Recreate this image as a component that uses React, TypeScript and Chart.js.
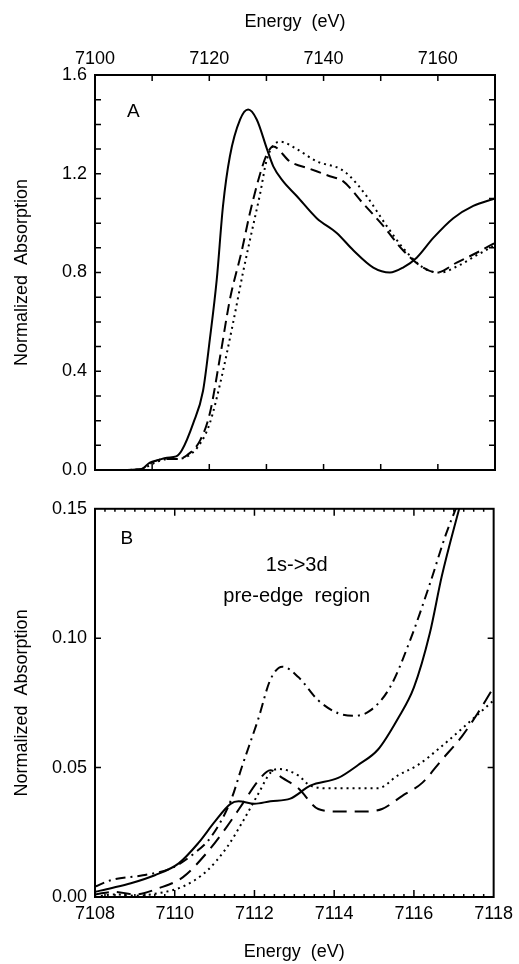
import React, { useEffect, useRef } from 'react';
import { Chart, registerables } from 'chart.js';

Chart.register(...registerables);

const FONT = '"Liberation Sans", Arial, Helvetica, sans-serif';

// ---------- Panel A (full edge) ----------
const aSolidE = [7104, 7108, 7109.6, 7111, 7112.6, 7114.2, 7115.2, 7117.2, 7118.9, 7120.1, 7121.3, 7122.4, 7123.6, 7125.4, 7126.8, 7128.3, 7130.1, 7131.2, 7132.9, 7135.3, 7138.8, 7142.3, 7145.2, 7148.7, 7151.6, 7153.9, 7156.3, 7159.2, 7162.7, 7166.2, 7170];
const aSolidY = [0, 0.003, 0.03, 0.04, 0.05, 0.055, 0.08, 0.19, 0.32, 0.53, 0.77, 1.07, 1.27, 1.42, 1.46, 1.42, 1.3, 1.23, 1.17, 1.11, 1.02, 0.96, 0.89, 0.82, 0.8, 0.82, 0.86, 0.94, 1.02, 1.07, 1.1];

const aDashE = [7104, 7108, 7109.6, 7111, 7113, 7114.5, 7116.1, 7118.4, 7120.1, 7121.9, 7123.6, 7125.7, 7127.1, 7128.9, 7130.1, 7131.2, 7134.1, 7137.6, 7141.1, 7143.4, 7146.9, 7150.4, 7153.9, 7157.4, 7159.8, 7163.3, 7166.8, 7170];
const aDashY = [0, 0.003, 0.025, 0.04, 0.045, 0.045, 0.06, 0.12, 0.23, 0.46, 0.69, 0.89, 1.04, 1.2, 1.28, 1.31, 1.25, 1.22, 1.19, 1.17, 1.08, 0.99, 0.89, 0.82, 0.8, 0.84, 0.88, 0.92];

const aDotE = [7104, 7108, 7109.6, 7111, 7113, 7114.5, 7116.5, 7118.5, 7120.1, 7121.9, 7124.2, 7125.9, 7127.1, 7128.9, 7130.1, 7132.4, 7135.3, 7138.8, 7142.9, 7144.6, 7147.5, 7151.0, 7153.9, 7157.4, 7160.4, 7163.8, 7166.8, 7170];
const aDotY = [0, 0.002, 0.02, 0.035, 0.045, 0.045, 0.06, 0.11, 0.19, 0.35, 0.6, 0.8, 0.93, 1.12, 1.26, 1.33, 1.3, 1.25, 1.22, 1.19, 1.11, 0.99, 0.9, 0.82, 0.8, 0.83, 0.87, 0.91];

// ---------- Panel B (pre-edge) ----------
const bSolidE = [7108, 7108.4, 7108.9, 7109.5, 7110.1, 7110.6, 7111.0, 7111.4, 7111.6, 7112.0, 7112.4, 7112.9, 7113.4, 7114.1, 7114.6, 7115.1, 7115.6, 7116.0, 7116.4, 7116.7, 7117.1, 7117.4];
const bSolidY = [0.002, 0.0034, 0.0053, 0.0084, 0.013, 0.021, 0.029, 0.036, 0.037, 0.036, 0.037, 0.038, 0.043, 0.046, 0.051, 0.057, 0.069, 0.081, 0.102, 0.124, 0.148, 0.165];

const bDashDotE = [7108, 7108.4, 7109.2, 7109.9, 7110.5, 7110.9, 7111.4, 7111.7, 7112.1, 7112.4, 7112.7, 7113.1, 7113.6, 7114.1, 7114.5, 7114.9, 7115.4, 7115.9, 7116.4, 7116.8, 7117.1, 7117.3];
const bDashDotY = [0.004, 0.0065, 0.0084, 0.011, 0.017, 0.023, 0.037, 0.051, 0.069, 0.084, 0.089, 0.085, 0.076, 0.071, 0.07, 0.072, 0.081, 0.099, 0.121, 0.14, 0.152, 0.16];

const bDashE = [7108, 7108.5, 7109, 7109.6, 7110.2, 7110.8, 7111.3, 7111.7, 7112.1, 7112.4, 7112.7, 7113.1, 7113.6, 7114.1, 7114.7, 7115.2, 7115.7, 7116.2, 7116.7, 7117.2, 7117.6, 7118];
const bDashY = [0.001, 0.002, 0.001, 0.0034, 0.0076, 0.017, 0.027, 0.036, 0.045, 0.049, 0.046, 0.042, 0.034, 0.033, 0.033, 0.034, 0.039, 0.044, 0.053, 0.062, 0.071, 0.081];

const bDotE = [7108, 7108.5, 7109, 7109.6, 7110.2, 7110.8, 7111.3, 7111.7, 7112.1, 7112.4, 7112.6, 7113.1, 7113.4, 7113.9, 7114.6, 7115.1, 7115.6, 7116.1, 7116.6, 7117.2, 7118];
const bDotY = [0.0, 0.001, 0.0005, 0.0015, 0.004, 0.01, 0.019, 0.029, 0.04, 0.048, 0.0495, 0.047, 0.043, 0.042, 0.042, 0.042, 0.047, 0.051, 0.057, 0.065, 0.076];

// ---------- tick labels ----------
const aXLabels = [7100, 7120, 7140, 7160];
const aYLabels = [0, 0.4, 0.8, 1.2, 1.6];
const bXLabels = [7108, 7110, 7112, 7114, 7116, 7118];
const bYLabels = [0, 0.05, 0.1, 0.15];

// tick mark positions (inward ticks)
const aXTickMarks = [7110, 7120, 7130, 7140, 7150, 7160];
const aYTickMarks = [0.1, 0.2, 0.3, 0.4, 0.5, 0.6, 0.7, 0.8, 0.9, 1.0, 1.1, 1.2, 1.3, 1.4, 1.5];
const bXMajorMarks = [7110, 7112, 7114, 7116];
const bYTickMarks = [0.05, 0.1];

const zip = (xs: number[], ys: number[]) => xs.map((x, i) => ({ x, y: ys[i] }));

const frameTicks = {
  id: 'frameTicks',
  afterDatasetsDraw(chart: any, _args: any, opts: any) {
    const { ctx, chartArea } = chart;
    const { left, right, top, bottom } = chartArea;
    const xs = chart.scales.x;
    const ys = chart.scales.y;
    ctx.save();
    ctx.strokeStyle = '#000';
    ctx.lineWidth = 1.5;
    ctx.beginPath();
    for (const t of opts.xTicks || []) {
      const px = xs.getPixelForValue(t.v);
      ctx.moveTo(px, top);
      ctx.lineTo(px, top + t.len);
      ctx.moveTo(px, bottom);
      ctx.lineTo(px, bottom - t.len);
    }
    for (const t of opts.yTicks || []) {
      const py = ys.getPixelForValue(t.v);
      ctx.moveTo(left, py);
      ctx.lineTo(left + t.len, py);
      ctx.moveTo(right, py);
      ctx.lineTo(right - t.len, py);
    }
    ctx.stroke();
    ctx.lineWidth = 2;
    ctx.strokeRect(left, top, right - left, bottom - top);
    ctx.fillStyle = '#000';
    ctx.textAlign = 'center';
    ctx.textBaseline = 'middle';
    for (const tx of opts.texts || []) {
      ctx.font = `${tx.size}px ${FONT}`;
      ctx.fillText(tx.text, xs.getPixelForValue(tx.x), ys.getPixelForValue(tx.y));
    }
    ctx.restore();
  },
};

const lineDs = (data: { x: number; y: number }[], dash: number[]) => ({
  data,
  borderColor: '#000',
  borderWidth: 2,
  borderDash: dash,
  pointRadius: 0,
  fill: false,
  cubicInterpolationMode: 'monotone' as const,
});

const tickFont = { family: FONT, size: 18 };

export default function App() {
  const refA = useRef<HTMLCanvasElement>(null);
  const refB = useRef<HTMLCanvasElement>(null);

  useEffect(() => {
    const chartA = new Chart(refA.current as HTMLCanvasElement, {
      type: 'line',
      data: {
        datasets: [
          lineDs(zip(aSolidE, aSolidY), []),
          lineDs(zip(aDashE, aDashY), [11, 6]),
          lineDs(zip(aDotE, aDotY), [2, 4]),
        ],
      },
      plugins: [frameTicks],
      options: {
        animation: false,
        responsive: false,
        devicePixelRatio: 1,
        layout: { padding: { top: 0, left: 0, right: 24, bottom: 20 } },
        plugins: {
          legend: { display: false },
          tooltip: { enabled: false },
          frameTicks: {
            xTicks: aXTickMarks.map((v) => ({ v, len: 6 })),
            yTicks: aYTickMarks.map((v) => ({ v, len: 6 })),
            texts: [{ text: 'A', x: 7106.7, y: 1.45, size: 19 }],
          },
        } as any,
        scales: {
          x: {
            type: 'linear',
            position: 'top',
            min: 7100,
            max: 7170,
            afterBuildTicks: (s: any) => {
              s.ticks = aXLabels.map((value) => ({ value }));
            },
            afterFit: (s: any) => {
              s.height = 75;
            },
            grid: { display: false, drawTicks: false },
            border: { display: false },
            ticks: { font: tickFont, color: '#000', padding: 5, maxRotation: 0, autoSkip: false, callback: (v: any) => String(v) },
            title: { display: true, text: 'Energy  (eV)', font: tickFont, color: '#000', padding: { top: 11, bottom: 0 } },
          },
          y: {
            type: 'linear',
            min: 0,
            max: 1.6,
            afterBuildTicks: (s: any) => {
              s.ticks = aYLabels.map((value) => ({ value }));
            },
            afterFit: (s: any) => {
              s.width = 95;
            },
            grid: { display: false, drawTicks: false },
            border: { display: false },
            ticks: { font: tickFont, color: '#000', padding: 8, autoSkip: false, callback: (v: any) => Number(v).toFixed(1) },
            title: { display: true, text: 'Normalized  Absorption', font: tickFont, color: '#000', padding: { top: 11, bottom: 0 } },
          },
        } as any,
      },
    });

    const bXMinor: { v: number; len: number }[] = [];
    for (let i = 1; i < 40; i++) {
      const v = 7108 + i * 0.25;
      if (Math.abs(v - Math.round(v)) < 1e-6 && Math.round(v) % 2 === 0) continue;
      bXMinor.push({ v, len: 3 });
    }

    const chartB = new Chart(refB.current as HTMLCanvasElement, {
      type: 'line',
      data: {
        datasets: [
          lineDs(zip(bSolidE, bSolidY), []),
          lineDs(zip(bDashDotE, bDashDotY), [10, 5, 2, 5]),
          lineDs(zip(bDashE, bDashY), [14, 8]),
          lineDs(zip(bDotE, bDotY), [2, 4]),
        ],
      },
      plugins: [frameTicks],
      options: {
        animation: false,
        responsive: false,
        devicePixelRatio: 1,
        layout: { padding: { top: 13, left: 0, right: 25, bottom: 0 } },
        plugins: {
          legend: { display: false },
          tooltip: { enabled: false },
          frameTicks: {
            xTicks: [...bXMajorMarks.map((v) => ({ v, len: 7 })), ...bXMinor],
            yTicks: bYTickMarks.map((v) => ({ v, len: 6 })),
            texts: [
              { text: 'B', x: 7108.8, y: 0.1386, size: 19 },
              { text: '1s->3d', x: 7113.06, y: 0.128, size: 20 },
              { text: 'pre-edge  region', x: 7113.06, y: 0.116, size: 20 },
            ],
          },
        } as any,
        scales: {
          x: {
            type: 'linear',
            position: 'bottom',
            min: 7108,
            max: 7118,
            afterBuildTicks: (s: any) => {
              s.ticks = bXLabels.map((value) => ({ value }));
            },
            afterFit: (s: any) => {
              s.height = 67;
            },
            grid: { display: false, drawTicks: false },
            border: { display: false },
            ticks: { font: tickFont, color: '#000', padding: 6, maxRotation: 0, autoSkip: false, callback: (v: any) => String(v) },
            title: { display: true, text: 'Energy  (eV)', font: tickFont, color: '#000', padding: { top: 0, bottom: 1 } },
          },
          y: {
            type: 'linear',
            min: 0,
            max: 0.15,
            afterBuildTicks: (s: any) => {
              s.ticks = bYLabels.map((value) => ({ value }));
            },
            afterFit: (s: any) => {
              s.width = 95;
            },
            grid: { display: false, drawTicks: false },
            border: { display: false },
            ticks: { font: tickFont, color: '#000', padding: 8, autoSkip: false, callback: (v: any) => Number(v).toFixed(2) },
            title: { display: true, text: 'Normalized  Absorption', font: tickFont, color: '#000', padding: { top: 11, bottom: 0 } },
          },
        } as any,
      },
    });

    return () => {
      chartA.destroy();
      chartB.destroy();
    };
  }, []);

  return (
    <div style={{ position: 'absolute', left: 0, top: 0, width: 519, height: 964, background: '#fff' }}>
      <canvas ref={refA} width={519} height={490} style={{ position: 'absolute', left: 0, top: 0 }} />
      <canvas ref={refB} width={519} height={474} style={{ position: 'absolute', left: 0, top: 490 }} />
    </div>
  );
}
